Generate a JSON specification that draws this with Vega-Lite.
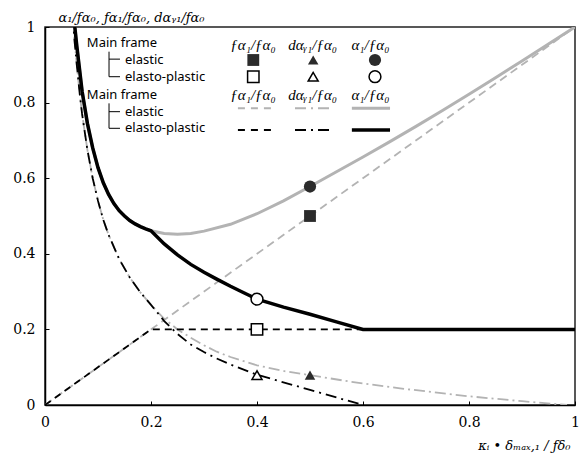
{
  "$schema": "https://vega.github.io/schema/vega-lite/v6.json",
  "width": 530,
  "height": 378,
  "autosize": {"type": "none"},
  "padding": {"left": 45, "top": 27, "right": 10, "bottom": 51},
  "background": "white",
  "config": {
    "view": {"stroke": "#222", "strokeWidth": 1.5},
    "axis": {
      "grid": false,
      "domainColor": "#000",
      "domainWidth": 1.5,
      "tickColor": "#000",
      "tickSize": -4,
      "tickWidth": 1,
      "labelFont": "DejaVu Serif",
      "labelFontSize": 14,
      "labelColor": "#000",
      "labelFlush": false,
      "labelOverlap": false,
      "titleFont": "DejaVu Serif",
      "titleFontStyle": "italic",
      "titleFontWeight": "normal",
      "titleFontSize": 13,
      "titleColor": "#000"
    }
  },
  "datasets": {
    "curves": [
      {"series": "grayDash", "x": 0, "y": 0},
      {"series": "grayDash", "x": 1, "y": 1},
      {"series": "blackDash", "x": 0, "y": 0},
      {"series": "blackDash", "x": 0.2, "y": 0.2},
      {"series": "blackDash", "x": 0.6, "y": 0.2},
      {"series": "grayDashDot", "x": 0.052, "y": 1.03},
      {"series": "grayDashDot", "x": 0.056, "y": 0.96},
      {"series": "grayDashDot", "x": 0.06, "y": 0.9},
      {"series": "grayDashDot", "x": 0.065, "y": 0.83},
      {"series": "grayDashDot", "x": 0.07, "y": 0.77},
      {"series": "grayDashDot", "x": 0.08, "y": 0.675},
      {"series": "grayDashDot", "x": 0.09, "y": 0.6},
      {"series": "grayDashDot", "x": 0.1, "y": 0.54},
      {"series": "grayDashDot", "x": 0.11, "y": 0.49},
      {"series": "grayDashDot", "x": 0.12, "y": 0.45},
      {"series": "grayDashDot", "x": 0.14, "y": 0.386},
      {"series": "grayDashDot", "x": 0.16, "y": 0.337},
      {"series": "grayDashDot", "x": 0.18, "y": 0.298},
      {"series": "grayDashDot", "x": 0.2, "y": 0.265},
      {"series": "grayDashDot", "x": 0.225, "y": 0.228},
      {"series": "grayDashDot", "x": 0.25, "y": 0.2},
      {"series": "grayDashDot", "x": 0.275, "y": 0.178},
      {"series": "grayDashDot", "x": 0.3, "y": 0.158},
      {"series": "grayDashDot", "x": 0.324, "y": 0.141},
      {"series": "grayDashDot", "x": 0.35, "y": 0.127},
      {"series": "grayDashDot", "x": 0.4, "y": 0.105},
      {"series": "grayDashDot", "x": 0.45, "y": 0.09},
      {"series": "grayDashDot", "x": 0.5, "y": 0.079},
      {"series": "grayDashDot", "x": 0.575, "y": 0.062},
      {"series": "grayDashDot", "x": 0.67, "y": 0.044},
      {"series": "grayDashDot", "x": 0.8, "y": 0.023},
      {"series": "grayDashDot", "x": 0.9, "y": 0.01},
      {"series": "grayDashDot", "x": 0.985, "y": 0},
      {"series": "blackDashDot", "x": 0.052, "y": 1.03},
      {"series": "blackDashDot", "x": 0.056, "y": 0.96},
      {"series": "blackDashDot", "x": 0.06, "y": 0.9},
      {"series": "blackDashDot", "x": 0.065, "y": 0.83},
      {"series": "blackDashDot", "x": 0.07, "y": 0.77},
      {"series": "blackDashDot", "x": 0.08, "y": 0.675},
      {"series": "blackDashDot", "x": 0.09, "y": 0.6},
      {"series": "blackDashDot", "x": 0.1, "y": 0.54},
      {"series": "blackDashDot", "x": 0.11, "y": 0.49},
      {"series": "blackDashDot", "x": 0.12, "y": 0.45},
      {"series": "blackDashDot", "x": 0.14, "y": 0.386},
      {"series": "blackDashDot", "x": 0.16, "y": 0.337},
      {"series": "blackDashDot", "x": 0.18, "y": 0.298},
      {"series": "blackDashDot", "x": 0.2, "y": 0.265},
      {"series": "blackDashDot", "x": 0.225, "y": 0.222},
      {"series": "blackDashDot", "x": 0.25, "y": 0.188},
      {"series": "blackDashDot", "x": 0.275, "y": 0.16},
      {"series": "blackDashDot", "x": 0.3, "y": 0.14},
      {"series": "blackDashDot", "x": 0.324, "y": 0.123},
      {"series": "blackDashDot", "x": 0.35, "y": 0.107},
      {"series": "blackDashDot", "x": 0.4, "y": 0.08},
      {"series": "blackDashDot", "x": 0.5, "y": 0.04},
      {"series": "blackDashDot", "x": 0.6, "y": 0},
      {"series": "graySolid", "x": 0.054, "y": 1.03},
      {"series": "graySolid", "x": 0.06, "y": 0.95},
      {"series": "graySolid", "x": 0.07, "y": 0.83},
      {"series": "graySolid", "x": 0.08, "y": 0.745},
      {"series": "graySolid", "x": 0.09, "y": 0.68},
      {"series": "graySolid", "x": 0.1, "y": 0.628},
      {"series": "graySolid", "x": 0.11, "y": 0.588},
      {"series": "graySolid", "x": 0.12, "y": 0.557},
      {"series": "graySolid", "x": 0.13, "y": 0.533},
      {"series": "graySolid", "x": 0.14, "y": 0.514},
      {"series": "graySolid", "x": 0.15, "y": 0.5},
      {"series": "graySolid", "x": 0.16, "y": 0.488},
      {"series": "graySolid", "x": 0.17, "y": 0.479},
      {"series": "graySolid", "x": 0.18, "y": 0.472},
      {"series": "graySolid", "x": 0.19, "y": 0.466},
      {"series": "graySolid", "x": 0.2, "y": 0.461},
      {"series": "graySolid", "x": 0.225, "y": 0.454},
      {"series": "graySolid", "x": 0.25, "y": 0.452},
      {"series": "graySolid", "x": 0.275, "y": 0.454},
      {"series": "graySolid", "x": 0.3, "y": 0.46},
      {"series": "graySolid", "x": 0.35, "y": 0.478},
      {"series": "graySolid", "x": 0.4, "y": 0.506},
      {"series": "graySolid", "x": 0.45, "y": 0.54},
      {"series": "graySolid", "x": 0.5, "y": 0.578},
      {"series": "graySolid", "x": 0.55, "y": 0.617},
      {"series": "graySolid", "x": 0.6, "y": 0.656},
      {"series": "graySolid", "x": 0.65, "y": 0.696},
      {"series": "graySolid", "x": 0.7, "y": 0.737},
      {"series": "graySolid", "x": 0.75, "y": 0.779},
      {"series": "graySolid", "x": 0.8, "y": 0.822},
      {"series": "graySolid", "x": 0.85, "y": 0.866},
      {"series": "graySolid", "x": 0.9, "y": 0.91},
      {"series": "graySolid", "x": 0.95, "y": 0.955},
      {"series": "graySolid", "x": 1.0, "y": 1.0},
      {"series": "blackSolid", "x": 0.054, "y": 1.03},
      {"series": "blackSolid", "x": 0.06, "y": 0.95},
      {"series": "blackSolid", "x": 0.07, "y": 0.83},
      {"series": "blackSolid", "x": 0.08, "y": 0.745},
      {"series": "blackSolid", "x": 0.09, "y": 0.68},
      {"series": "blackSolid", "x": 0.1, "y": 0.628},
      {"series": "blackSolid", "x": 0.11, "y": 0.588},
      {"series": "blackSolid", "x": 0.12, "y": 0.557},
      {"series": "blackSolid", "x": 0.13, "y": 0.533},
      {"series": "blackSolid", "x": 0.14, "y": 0.514},
      {"series": "blackSolid", "x": 0.15, "y": 0.5},
      {"series": "blackSolid", "x": 0.16, "y": 0.488},
      {"series": "blackSolid", "x": 0.17, "y": 0.479},
      {"series": "blackSolid", "x": 0.18, "y": 0.472},
      {"series": "blackSolid", "x": 0.19, "y": 0.466},
      {"series": "blackSolid", "x": 0.2, "y": 0.461},
      {"series": "blackSolid", "x": 0.225, "y": 0.426},
      {"series": "blackSolid", "x": 0.25, "y": 0.397},
      {"series": "blackSolid", "x": 0.275, "y": 0.372},
      {"series": "blackSolid", "x": 0.3, "y": 0.351},
      {"series": "blackSolid", "x": 0.324, "y": 0.333},
      {"series": "blackSolid", "x": 0.35, "y": 0.314},
      {"series": "blackSolid", "x": 0.375, "y": 0.297},
      {"series": "blackSolid", "x": 0.4, "y": 0.28},
      {"series": "blackSolid", "x": 0.45, "y": 0.259},
      {"series": "blackSolid", "x": 0.5, "y": 0.24},
      {"series": "blackSolid", "x": 0.55, "y": 0.22},
      {"series": "blackSolid", "x": 0.6, "y": 0.2},
      {"series": "blackSolid", "x": 1.0, "y": 0.2}
    ],
    "points": [
      {"model": "elastic", "quantity": "fa1", "x": 0.5, "y": 0.5},
      {"model": "elastic", "quantity": "day1", "x": 0.5, "y": 0.079},
      {"model": "elastic", "quantity": "a1", "x": 0.5, "y": 0.578},
      {"model": "elasto-plastic", "quantity": "fa1", "x": 0.4, "y": 0.2},
      {"model": "elasto-plastic", "quantity": "day1", "x": 0.4, "y": 0.079},
      {"model": "elasto-plastic", "quantity": "a1", "x": 0.4, "y": 0.28}
    ],
    "one": [{}]
  },
  "layer": [
    {
      "data": {"name": "curves"},
      "transform": [{"filter": "datum.series === 'graySolid'"}],
      "mark": {"type": "line", "color": "#b3b3b3", "strokeWidth": 3, "clip": true},
      "encoding": {
        "x": {"field": "x", "type": "quantitative", "scale": {"domain": [0, 1], "nice": false},
          "axis": {"values": [0, 0.2, 0.4, 0.6, 0.8, 1], "format": "~g", "labelPadding": 14,
            "title": "κᵢ • δₘₐₓ,₁ / ƒδ₀", "titleAnchor": "end", "titleAlign": "right", "titleX": 525, "titleY": 40, "titleBaseline": "middle"}},
        "y": {"field": "y", "type": "quantitative", "scale": {"domain": [0, 1], "nice": false},
          "axis": {"values": [0, 0.2, 0.4, 0.6, 0.8, 1], "format": "~g", "labelPadding": 14,
            "title": "α₁/ƒα₀, ƒα₁/ƒα₀, dαᵧ₁/ƒα₀", "titleAngle": 0, "titleAlign": "left", "titleBaseline": "middle", "titleX": 13, "titleY": -10}},
        "order": {"field": "x", "type": "quantitative"}
      }
    },
    {
      "data": {"name": "curves"},
      "transform": [{"filter": "datum.series === 'grayDash'"}],
      "mark": {"type": "line", "color": "#b3b3b3", "strokeWidth": 1.8, "strokeDash": [8, 5], "clip": true},
      "encoding": {"x": {"field": "x", "type": "quantitative"}, "y": {"field": "y", "type": "quantitative"}, "order": {"field": "x", "type": "quantitative"}}
    },
    {
      "data": {"name": "curves"},
      "transform": [{"filter": "datum.series === 'grayDashDot'"}],
      "mark": {"type": "line", "color": "#b3b3b3", "strokeWidth": 1.8, "strokeDash": [11, 4, 2, 4], "clip": true},
      "encoding": {"x": {"field": "x", "type": "quantitative"}, "y": {"field": "y", "type": "quantitative"}, "order": {"field": "x", "type": "quantitative"}}
    },
    {
      "data": {"name": "curves"},
      "transform": [{"filter": "datum.series === 'blackDash'"}],
      "mark": {"type": "line", "color": "#000", "strokeWidth": 1.8, "strokeDash": [7, 5], "clip": true},
      "encoding": {"x": {"field": "x", "type": "quantitative"}, "y": {"field": "y", "type": "quantitative"}, "order": {"field": "x", "type": "quantitative"}}
    },
    {
      "data": {"name": "curves"},
      "transform": [{"filter": "datum.series === 'blackDashDot'"}],
      "mark": {"type": "line", "color": "#000", "strokeWidth": 1.8, "strokeDash": [11, 5, 2, 5], "clip": true},
      "encoding": {"x": {"field": "x", "type": "quantitative"}, "y": {"field": "y", "type": "quantitative"}, "order": {"field": "x", "type": "quantitative"}}
    },
    {
      "data": {"name": "curves"},
      "transform": [{"filter": "datum.series === 'blackSolid'"}],
      "mark": {"type": "line", "color": "#000", "strokeWidth": 3.5, "clip": true},
      "encoding": {"x": {"field": "x", "type": "quantitative"}, "y": {"field": "y", "type": "quantitative"}, "order": {"field": "x", "type": "quantitative"}}
    },
    {
      "data": {"name": "points"},
      "transform": [{"filter": "datum.model === 'elastic' && datum.quantity === 'fa1'"}],
      "mark": {"type": "point", "shape": "square", "size": 140, "filled": true, "color": "#2b2b2b", "opacity": 1},
      "encoding": {"x": {"field": "x", "type": "quantitative"}, "y": {"field": "y", "type": "quantitative"}}
    },
    {
      "data": {"name": "points"},
      "transform": [{"filter": "datum.model === 'elastic' && datum.quantity === 'day1'"}],
      "mark": {"type": "point", "shape": "triangle-up", "size": 110, "filled": true, "color": "#2b2b2b", "opacity": 1},
      "encoding": {"x": {"field": "x", "type": "quantitative"}, "y": {"field": "y", "type": "quantitative"}}
    },
    {
      "data": {"name": "points"},
      "transform": [{"filter": "datum.model === 'elastic' && datum.quantity === 'a1'"}],
      "mark": {"type": "point", "shape": "circle", "size": 150, "filled": true, "color": "#2b2b2b", "opacity": 1},
      "encoding": {"x": {"field": "x", "type": "quantitative"}, "y": {"field": "y", "type": "quantitative"}}
    },
    {
      "data": {"name": "points"},
      "transform": [{"filter": "datum.model === 'elasto-plastic' && datum.quantity === 'fa1'"}],
      "mark": {"type": "point", "shape": "square", "size": 130, "filled": true, "fill": "white", "stroke": "#000", "strokeWidth": 1.5, "opacity": 1},
      "encoding": {"x": {"field": "x", "type": "quantitative"}, "y": {"field": "y", "type": "quantitative"}}
    },
    {
      "data": {"name": "points"},
      "transform": [{"filter": "datum.model === 'elasto-plastic' && datum.quantity === 'day1'"}],
      "mark": {"type": "point", "shape": "triangle-up", "size": 100, "filled": true, "fill": "white", "stroke": "#000", "strokeWidth": 1.5, "opacity": 1},
      "encoding": {"x": {"field": "x", "type": "quantitative"}, "y": {"field": "y", "type": "quantitative"}}
    },
    {
      "data": {"name": "points"},
      "transform": [{"filter": "datum.model === 'elasto-plastic' && datum.quantity === 'a1'"}],
      "mark": {"type": "point", "shape": "circle", "size": 140, "filled": true, "fill": "white", "stroke": "#000", "strokeWidth": 1.5, "opacity": 1},
      "encoding": {"x": {"field": "x", "type": "quantitative"}, "y": {"field": "y", "type": "quantitative"}}
    },
    {"data": {"name": "one"}, "mark": {"type": "text", "font": "Noto Sans", "fontSize": 13, "align": "left", "baseline": "middle", "color": "#000"},
      "encoding": {"x": {"datum": 0.079, "type": "quantitative"}, "y": {"datum": 0.958, "type": "quantitative"}, "text": {"value": "Main frame"}}},
    {"data": {"name": "one"}, "mark": {"type": "text", "font": "Noto Sans", "fontSize": 13, "align": "left", "baseline": "middle", "color": "#000"},
      "encoding": {"x": {"datum": 0.151, "type": "quantitative"}, "y": {"datum": 0.914, "type": "quantitative"}, "text": {"value": "elastic"}}},
    {"data": {"name": "one"}, "mark": {"type": "text", "font": "Noto Sans", "fontSize": 13, "align": "left", "baseline": "middle", "color": "#000"},
      "encoding": {"x": {"datum": 0.151, "type": "quantitative"}, "y": {"datum": 0.869, "type": "quantitative"}, "text": {"value": "elasto-plastic"}}},
    {"data": {"name": "one"}, "mark": {"type": "text", "font": "Noto Sans", "fontSize": 13, "align": "left", "baseline": "middle", "color": "#000"},
      "encoding": {"x": {"datum": 0.079, "type": "quantitative"}, "y": {"datum": 0.82, "type": "quantitative"}, "text": {"value": "Main frame"}}},
    {"data": {"name": "one"}, "mark": {"type": "text", "font": "Noto Sans", "fontSize": 13, "align": "left", "baseline": "middle", "color": "#000"},
      "encoding": {"x": {"datum": 0.151, "type": "quantitative"}, "y": {"datum": 0.776, "type": "quantitative"}, "text": {"value": "elastic"}}},
    {"data": {"name": "one"}, "mark": {"type": "text", "font": "Noto Sans", "fontSize": 13, "align": "left", "baseline": "middle", "color": "#000"},
      "encoding": {"x": {"datum": 0.151, "type": "quantitative"}, "y": {"datum": 0.732, "type": "quantitative"}, "text": {"value": "elasto-plastic"}}},
    {"data": {"name": "one"}, "mark": {"type": "rule", "color": "#000", "strokeWidth": 1},
      "encoding": {"x": {"datum": 0.1208, "type": "quantitative"}, "y": {"datum": 0.9347, "type": "quantitative"}, "y2": {"datum": 0.8685}}},
    {"data": {"name": "one"}, "mark": {"type": "rule", "color": "#000", "strokeWidth": 1},
      "encoding": {"x": {"datum": 0.1208, "type": "quantitative"}, "x2": {"datum": 0.1415}, "y": {"datum": 0.915, "type": "quantitative"}}},
    {"data": {"name": "one"}, "mark": {"type": "rule", "color": "#000", "strokeWidth": 1},
      "encoding": {"x": {"datum": 0.1208, "type": "quantitative"}, "x2": {"datum": 0.1415}, "y": {"datum": 0.8685, "type": "quantitative"}}},
    {"data": {"name": "one"}, "mark": {"type": "rule", "color": "#000", "strokeWidth": 1},
      "encoding": {"x": {"datum": 0.1208, "type": "quantitative"}, "y": {"datum": 0.798, "type": "quantitative"}, "y2": {"datum": 0.732}}},
    {"data": {"name": "one"}, "mark": {"type": "rule", "color": "#000", "strokeWidth": 1},
      "encoding": {"x": {"datum": 0.1208, "type": "quantitative"}, "x2": {"datum": 0.1415}, "y": {"datum": 0.776, "type": "quantitative"}}},
    {"data": {"name": "one"}, "mark": {"type": "rule", "color": "#000", "strokeWidth": 1},
      "encoding": {"x": {"datum": 0.1208, "type": "quantitative"}, "x2": {"datum": 0.1415}, "y": {"datum": 0.732, "type": "quantitative"}}},
    {"data": {"name": "one"}, "mark": {"type": "text", "font": "serif", "fontStyle": "italic", "fontSize": 15, "align": "center", "baseline": "middle", "color": "#000"},
      "encoding": {"x": {"datum": 0.3925, "type": "quantitative"}, "y": {"datum": 0.952, "type": "quantitative"}, "text": {"value": "ƒα₁/ƒα₀"}}},
    {"data": {"name": "one"}, "mark": {"type": "text", "font": "serif", "fontStyle": "italic", "fontSize": 15, "align": "center", "baseline": "middle", "color": "#000"},
      "encoding": {"x": {"datum": 0.505, "type": "quantitative"}, "y": {"datum": 0.952, "type": "quantitative"}, "text": {"value": "dαᵧ₁/ƒα₀"}}},
    {"data": {"name": "one"}, "mark": {"type": "text", "font": "serif", "fontStyle": "italic", "fontSize": 15, "align": "center", "baseline": "middle", "color": "#000"},
      "encoding": {"x": {"datum": 0.614, "type": "quantitative"}, "y": {"datum": 0.952, "type": "quantitative"}, "text": {"value": "α₁/ƒα₀"}}},
    {"data": {"name": "one"}, "mark": {"type": "text", "font": "serif", "fontStyle": "italic", "fontSize": 15, "align": "center", "baseline": "middle", "color": "#000"},
      "encoding": {"x": {"datum": 0.3925, "type": "quantitative"}, "y": {"datum": 0.819, "type": "quantitative"}, "text": {"value": "ƒα₁/ƒα₀"}}},
    {"data": {"name": "one"}, "mark": {"type": "text", "font": "serif", "fontStyle": "italic", "fontSize": 15, "align": "center", "baseline": "middle", "color": "#000"},
      "encoding": {"x": {"datum": 0.505, "type": "quantitative"}, "y": {"datum": 0.819, "type": "quantitative"}, "text": {"value": "dαᵧ₁/ƒα₀"}}},
    {"data": {"name": "one"}, "mark": {"type": "text", "font": "serif", "fontStyle": "italic", "fontSize": 15, "align": "center", "baseline": "middle", "color": "#000"},
      "encoding": {"x": {"datum": 0.614, "type": "quantitative"}, "y": {"datum": 0.819, "type": "quantitative"}, "text": {"value": "α₁/ƒα₀"}}},
    {"data": {"name": "one"}, "mark": {"type": "point", "shape": "square", "size": 140, "filled": true, "color": "#2b2b2b", "opacity": 1},
      "encoding": {"x": {"datum": 0.393, "type": "quantitative"}, "y": {"datum": 0.9127, "type": "quantitative"}}},
    {"data": {"name": "one"}, "mark": {"type": "point", "shape": "triangle-up", "size": 110, "filled": true, "color": "#2b2b2b", "opacity": 1},
      "encoding": {"x": {"datum": 0.506, "type": "quantitative"}, "y": {"datum": 0.9127, "type": "quantitative"}}},
    {"data": {"name": "one"}, "mark": {"type": "point", "shape": "circle", "size": 150, "filled": true, "color": "#2b2b2b", "opacity": 1},
      "encoding": {"x": {"datum": 0.6226, "type": "quantitative"}, "y": {"datum": 0.9127, "type": "quantitative"}}},
    {"data": {"name": "one"}, "mark": {"type": "point", "shape": "square", "size": 130, "filled": true, "fill": "white", "stroke": "#000", "strokeWidth": 1.5, "opacity": 1},
      "encoding": {"x": {"datum": 0.393, "type": "quantitative"}, "y": {"datum": 0.8685, "type": "quantitative"}}},
    {"data": {"name": "one"}, "mark": {"type": "point", "shape": "triangle-up", "size": 100, "filled": true, "fill": "white", "stroke": "#000", "strokeWidth": 1.5, "opacity": 1},
      "encoding": {"x": {"datum": 0.506, "type": "quantitative"}, "y": {"datum": 0.8685, "type": "quantitative"}}},
    {"data": {"name": "one"}, "mark": {"type": "point", "shape": "circle", "size": 140, "filled": true, "fill": "white", "stroke": "#000", "strokeWidth": 1.5, "opacity": 1},
      "encoding": {"x": {"datum": 0.6226, "type": "quantitative"}, "y": {"datum": 0.8685, "type": "quantitative"}}},
    {"data": {"name": "one"}, "mark": {"type": "rule", "color": "#b3b3b3", "strokeWidth": 1.8, "strokeDash": [7, 6]},
      "encoding": {"x": {"datum": 0.364, "type": "quantitative"}, "x2": {"datum": 0.43}, "y": {"datum": 0.785, "type": "quantitative"}}},
    {"data": {"name": "one"}, "mark": {"type": "rule", "color": "#b3b3b3", "strokeWidth": 1.8, "strokeDash": [11, 5, 2, 5]},
      "encoding": {"x": {"datum": 0.4717, "type": "quantitative"}, "x2": {"datum": 0.543}, "y": {"datum": 0.785, "type": "quantitative"}}},
    {"data": {"name": "one"}, "mark": {"type": "rule", "color": "#b3b3b3", "strokeWidth": 3},
      "encoding": {"x": {"datum": 0.579, "type": "quantitative"}, "x2": {"datum": 0.651}, "y": {"datum": 0.785, "type": "quantitative"}}},
    {"data": {"name": "one"}, "mark": {"type": "rule", "color": "#000", "strokeWidth": 1.8, "strokeDash": [7, 6]},
      "encoding": {"x": {"datum": 0.364, "type": "quantitative"}, "x2": {"datum": 0.43}, "y": {"datum": 0.7275, "type": "quantitative"}}},
    {"data": {"name": "one"}, "mark": {"type": "rule", "color": "#000", "strokeWidth": 1.8, "strokeDash": [11, 5, 2, 5]},
      "encoding": {"x": {"datum": 0.4717, "type": "quantitative"}, "x2": {"datum": 0.543}, "y": {"datum": 0.7275, "type": "quantitative"}}},
    {"data": {"name": "one"}, "mark": {"type": "rule", "color": "#000", "strokeWidth": 3.5},
      "encoding": {"x": {"datum": 0.579, "type": "quantitative"}, "x2": {"datum": 0.651}, "y": {"datum": 0.7275, "type": "quantitative"}}}
  ]
}
